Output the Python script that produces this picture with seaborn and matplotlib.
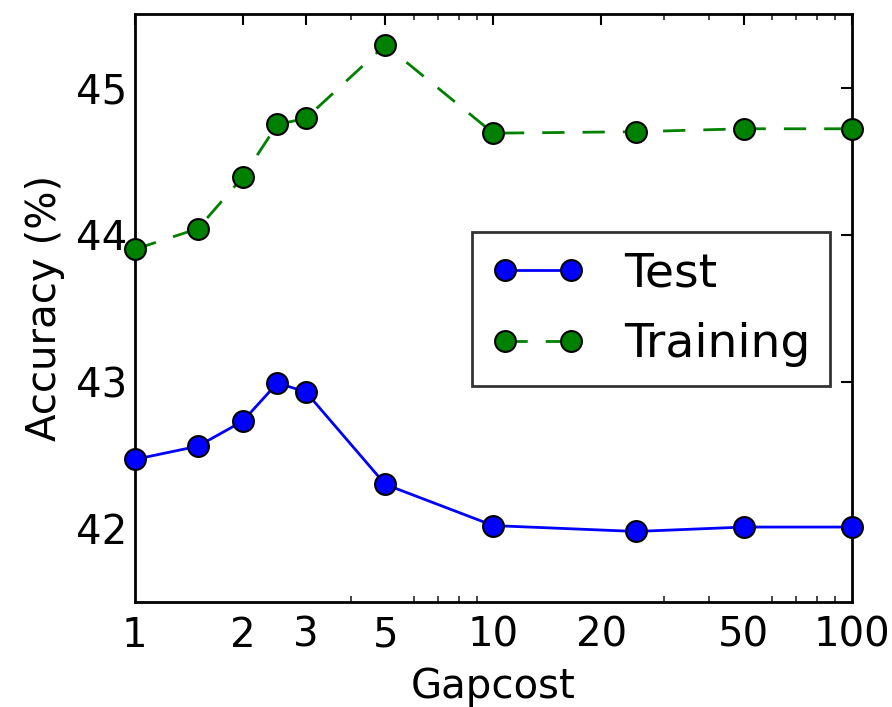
import matplotlib
matplotlib.use("Agg")
import matplotlib.pyplot as plt
import seaborn as sns
import pandas as pd
from matplotlib.ticker import FixedLocator, FixedFormatter, LogLocator, NullFormatter

gapcost = [1, 1.5, 2, 2.5, 3, 5, 10, 25, 50, 100]
test_acc = [42.47, 42.56, 42.73, 42.99, 42.93, 42.30, 42.02, 41.98, 42.01, 42.01]
train_acc = [43.90, 44.04, 44.39, 44.75, 44.79, 45.29, 44.69, 44.70, 44.72, 44.72]
xticks = [1, 2, 3, 5, 10, 20, 50, 100]
xtick_labels = ["1", "2", "3", "5", "10", "20", "50", "100"]
yticks = [42, 43, 44, 45]

sns.set_style("white")
plt.rcParams["font.family"] = ["DejaVu Sans"]
plt.rcParams["text.color"] = "black"
plt.rcParams["axes.labelcolor"] = "black"
plt.rcParams["xtick.direction"] = "in"
plt.rcParams["ytick.direction"] = "in"

fig = plt.figure(figsize=(8.92, 7.07), dpi=100)
ax = fig.add_axes([0.151, 0.1485, 0.804, 0.8315])

df_test = pd.DataFrame({"Gapcost": gapcost, "acc": test_acc})
df_train = pd.DataFrame({"Gapcost": gapcost, "acc": train_acc})

sns.lineplot(data=df_test, x="Gapcost", y="acc", ax=ax, color="blue", linestyle="-",
             linewidth=2, marker="o", markersize=15, markeredgecolor="black",
             markeredgewidth=1.5, label="Test", clip_on=False, zorder=3)
sns.lineplot(data=df_train, x="Gapcost", y="acc", ax=ax, color="green", linestyle="--",
             linewidth=2, marker="o", markersize=15, markeredgecolor="black",
             markeredgewidth=1.5, label="Training", clip_on=False, zorder=3)
ax.lines[1].set_dashes((8, 6.5))

ax.set_xscale("log")
ax.set_xlim(1, 100)
ax.set_ylim(41.5, 45.5)
ax.xaxis.set_major_locator(FixedLocator(xticks))
ax.xaxis.set_major_formatter(FixedFormatter(xtick_labels))
ax.xaxis.set_minor_locator(LogLocator(base=10, subs=range(2, 10)))
ax.xaxis.set_minor_formatter(NullFormatter())
ax.set_yticks(yticks)
ax.set_yticklabels([str(v) for v in yticks])

ax.tick_params(axis="both", which="major", direction="in", length=8, width=1.5,
               top=True, right=True, labelsize=29, pad=10, colors="black")
ax.tick_params(axis="y", which="major", pad=5)
ax.tick_params(axis="x", which="minor", direction="in", length=4, width=1.2,
               top=True, bottom=True)
for sp in ax.spines.values():
    sp.set_visible(True)
    sp.set_color("black")
    sp.set_linewidth(2)

ax.set_xlabel("Gapcost", fontsize=29, labelpad=8)
ax.set_ylabel("Accuracy (%)", fontsize=29, labelpad=8)

leg = ax.legend(loc="upper left", bbox_to_anchor=(0.47, 0.629), borderaxespad=0,
                numpoints=2, fontsize=34, fancybox=False, frameon=True,
                handlelength=2.0, handletextpad=0.83, borderpad=0.4, labelspacing=0.55)
leg.get_frame().set_edgecolor("black")
leg.get_frame().set_linewidth(2)
for t in leg.get_texts():
    t.set_color("black")

fig.savefig("out.png", dpi=100, facecolor="white")
